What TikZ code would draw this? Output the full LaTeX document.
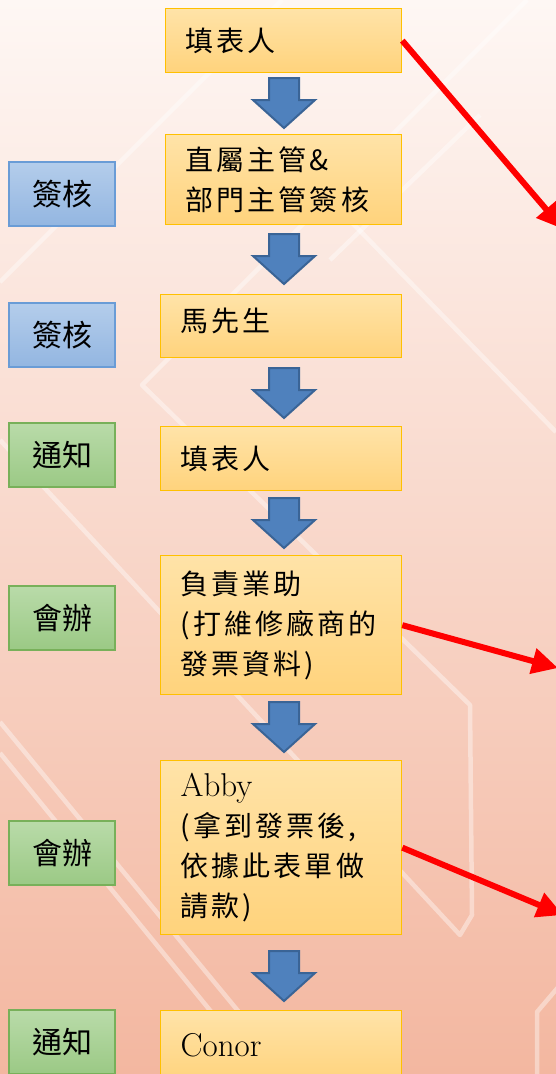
\documentclass[tikz,border=0pt]{standalone}
\usepackage{fontspec}
\usetikzlibrary{arrows.meta}
\newfontfamily\cjk{Noto Sans CJK TC}
\newfontfamily\cjkwide{Noto Sans CJK TC}[LetterSpace=11]
\definecolor{bgtop}{HTML}{FEF7F4}
\definecolor{bgmid}{HTML}{FBE3D9}
\definecolor{bgbot}{HTML}{F3B7A0}
\definecolor{otop}{HTML}{FFE3A8}
\definecolor{obot}{HTML}{FFD37C}
\definecolor{oline}{HTML}{FFC000}
\definecolor{btop}{HTML}{B4CDEB}
\definecolor{bbot}{HTML}{93B6E1}
\definecolor{bline}{HTML}{6A9CD6}
\definecolor{gtop}{HTML}{B9DBA9}
\definecolor{gbot}{HTML}{9BC985}
\definecolor{gline}{HTML}{78B05A}
\definecolor{afill}{HTML}{4F81BD}
\definecolor{aline}{HTML}{3A6496}
\tikzset{
  obox/.style={draw=oline, line width=1.3pt, top color=otop, bottom color=obot,
    anchor=north west, inner xsep=20pt, align=left,
    font=\cjkwide\fontsize{28}{40}\selectfont},
  lbox/.style={line width=1.3pt, minimum width=106pt, minimum height=64pt,
    font=\cjk\fontsize{30}{36}\selectfont},
  bluebox/.style={lbox, draw=bline, top color=btop, bottom color=bbot},
  greenbox/.style={lbox, draw=gline, top color=gtop, bottom color=gbot},
  redarrow/.style={draw=red, line width=6pt, -{Triangle[length=26pt,width=25pt]}},
  bgline/.style={draw=white, line width=4.5pt, opacity=0.4, line join=round},
  downarrow/.pic={\path[fill=afill, draw=aline, line width=2pt, line join=miter]
    (-15,0) -- (15,0) -- (15,22) -- (31,22) -- (0,50) -- (-31,22) -- (-15,22) -- cycle;}
}
\newcommand{\lat}{\rmfamily\fontsize{33}{40}\selectfont}
\begin{document}
\begin{tikzpicture}[x=1pt,y=-1pt]
\useasboundingbox (0,0) rectangle (556,1074);
\begin{scope}
\clip (0,0) rectangle (556,1074);
\shade[top color=bgtop, middle color=bgmid, bottom color=bgbot] (0,0) rectangle (556,1074);
% faint background pattern
\path[bgline] (527,0) -- (142,385) -- (470,705) -- (472,915) -- (460,935) -- (0,440);
\path[bgline] (0,282) -- (282,0);
\path[bgline] (330,200) -- (556,432);
\path[bgline] (330,260) -- (480,115);
\path[bgline] (0,722) -- (290,1074);
\path[bgline] (0,753) -- (262,1074);
\path[bgline] (560,985) -- (537,1012) -- (537,1080);

% process boxes
\node[obox, minimum width=236pt, minimum height=64pt, text width=196pt] (b1) at (165,8) {填表人};
\node[obox, minimum width=236pt, minimum height=90pt, text width=196pt] (b2) at (165,134) {直屬主管\&\\部門主管簽核};
\node[obox, minimum width=241pt, minimum height=63pt, text width=201pt, text depth=12pt] (b3) at (160,294) {馬先生};
\node[obox, minimum width=241pt, minimum height=64pt, text width=201pt] (b4) at (160,426) {填表人};
\node[obox, minimum width=241pt, minimum height=139pt, text width=201pt] (b5) at (160,555) {負責業助\\(打維修廠商的\\發票資料)};
\node[obox, minimum width=241pt, minimum height=174pt, text width=201pt] (b6) at (160,760) {{\lat Abby}\\(拿到發票後,\\依據此表單做\\請款)};
\node[obox, minimum width=241pt, minimum height=72pt, text width=201pt, text depth=4pt] (b7) at (160,1010) {{\lat Conor}};

% side labels
\node[bluebox] (l2) at (62,194) {簽核};
\node[bluebox] (l3) at (62,335) {簽核};
\node[greenbox] (l4) at (62,455) {通知};
\node[greenbox] (l5) at (62,618) {會辦};
\node[greenbox] (l6) at (62,853) {會辦};
\node[greenbox] (l7) at (62,1042) {通知};

% block arrows between steps
\pic (a1) at (284,78) {downarrow};
\pic (a2) at (284,234) {downarrow};
\pic (a3) at (284,368) {downarrow};
\pic (a4) at (284,498) {downarrow};
\pic (a5) at (284,702) {downarrow};
\pic (a6) at (284,951) {downarrow};

% red arrows
\coordinate (r1) at (563,229);
\coordinate (r2) at (558,668);
\coordinate (r3) at (563,915);
\draw[redarrow] (b1.east) -- (r1);
\draw[redarrow] (b5.east) -- (r2);
\draw[redarrow] (b6.east) -- (r3);
\end{scope}
\end{tikzpicture}
\end{document}
